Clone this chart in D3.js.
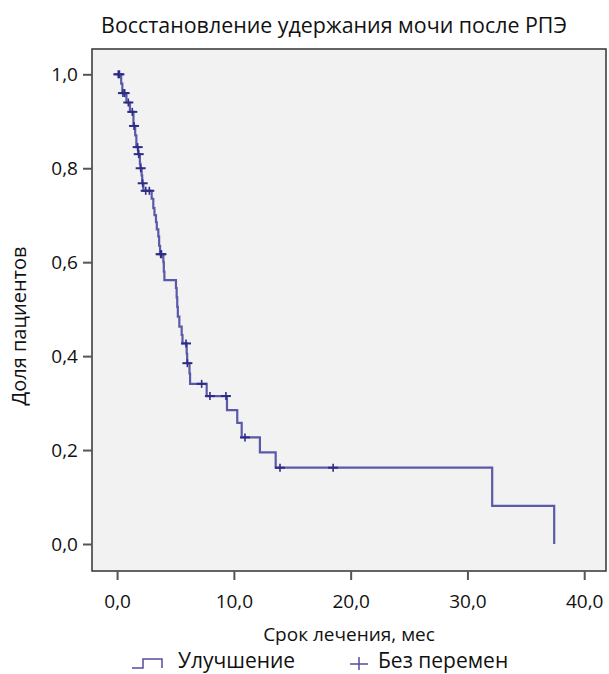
<!DOCTYPE html>
<html><head><meta charset="utf-8">
<script src="https://cdn.jsdelivr.net/npm/d3@7"></script>
<style>body{margin:0;background:#fff;}svg{display:block;}</style>
</head><body>
<svg id="c" width="609" height="674"></svg>
<script>
// Kaplan–Meier step events (time in months, survival after the step)
const stepTimes = [0, 0.35, 0.45, 0.8, 1.1, 1.4, 1.55, 1.65, 1.8, 1.95, 2.0, 2.1, 2.15, 2.25,
  2.96, 3.1, 3.2, 3.33, 3.4, 3.53, 3.6, 3.68, 3.96, 4.0, 4.05,
  5.04, 5.1, 5.15, 5.2, 5.33, 5.53, 5.6, 5.96, 6.0, 6.2, 6.25,
  7.67, 9.41, 10.29, 10.67, 12.23, 13.58, 32.12, 37.43];
const stepSurv = [1.0, 0.98, 0.96, 0.94, 0.92, 0.89, 0.87, 0.845, 0.83, 0.81, 0.80, 0.785, 0.768, 0.752,
  0.735, 0.715, 0.70, 0.685, 0.67, 0.655, 0.635, 0.617, 0.60, 0.58, 0.562,
  0.545, 0.525, 0.505, 0.484, 0.463, 0.445, 0.427, 0.405, 0.385, 0.363, 0.341,
  0.315, 0.285, 0.258, 0.227, 0.195, 0.1624, 0.0812, 0.0];
// censored observations
const censorTimes = [0.1, 0.2, 0.5, 0.65, 0.96, 1.3, 1.45, 1.76, 1.85, 2.02, 2.19, 2.45, 2.76,
  3.73, 3.8, 5.9, 6.02, 7.24, 7.95, 9.32, 10.95, 13.95, 18.5];
const censorSurv = [1.0, 1.0, 0.96, 0.96, 0.94, 0.92, 0.89, 0.845, 0.83, 0.80, 0.768, 0.752, 0.752,
  0.617, 0.617, 0.427, 0.385, 0.341, 0.315, 0.315, 0.227, 0.1624, 0.1624];
const xTicks = [0, 10, 20, 30, 40];
const xTickLabels = ["0,0", "10,0", "20,0", "30,0", "40,0"];
const yTicks = [0, 0.2, 0.4, 0.6, 0.8, 1.0];
const yTickLabels = ["0,0", "0,2", "0,4", "0,6", "0,8", "1,0"];
const legendLabels = ["Улучшение", "Без перемен"];
const titleText = "Восстановление удержания мочи после РПЭ";
const xLabel = "Срок лечения, мес";
const yLabel = "Доля пациентов";

const FONT = "'Open Sans', 'Noto Sans', sans-serif";
const svg = d3.select("#c");
const frame = {x0: 92, x1: 606, y0: 49, y1: 571};
const x = d3.scaleLinear().domain([0, 40]).range([117.1, 584.2]);
const y = d3.scaleLinear().domain([0, 1]).range([544, 74.3]);

svg.append("rect").attr("x", frame.x0).attr("y", frame.y0)
  .attr("width", frame.x1 - frame.x0).attr("height", frame.y1 - frame.y0)
  .attr("fill", "#f2f2f2").attr("stroke", "#333").attr("stroke-width", 1.5);

// axes
const yAxis = d3.axisLeft(y).tickValues(yTicks).tickSize(9).tickPadding(5)
  .tickFormat((d, i) => yTickLabels[i]);
const gy = svg.append("g").attr("transform", `translate(${frame.x0},0)`).call(yAxis);
gy.select(".domain").remove();
gy.selectAll(".tick line").attr("stroke", "#555").attr("stroke-width", 2);
gy.selectAll(".tick text").attr("font-family", FONT).attr("font-size", 19).attr("fill", "#111");

const xAxis = d3.axisBottom(x).tickValues(xTicks).tickSize(9).tickPadding(15)
  .tickFormat((d, i) => xTickLabels[i]);
const gx = svg.append("g").attr("transform", `translate(0,${frame.y1})`).call(xAxis);
gx.select(".domain").remove();
gx.selectAll(".tick line").attr("stroke", "#555").attr("stroke-width", 2);
gx.selectAll(".tick text").attr("font-family", FONT).attr("font-size", 19).attr("fill", "#111");

// KM curve
const pts = stepTimes.map((t, i) => [t, stepSurv[i]]);
const line = d3.line().x(d => x(d[0])).y(d => y(d[1])).curve(d3.curveStepAfter);
svg.append("path").attr("d", line(pts)).attr("fill", "none")
  .attr("stroke", "#5a5aa8").attr("stroke-width", 2.2);

// censor marks
const cg = svg.append("g");
censorTimes.forEach((t, i) => {
  const cx = x(t), cy = y(censorSurv[i]);
  cg.append("line").attr("x1", cx - 5).attr("x2", cx + 5).attr("y1", cy).attr("y2", cy)
    .attr("stroke", "#2d2d88").attr("stroke-width", 2);
  cg.append("line").attr("x1", cx).attr("x2", cx).attr("y1", cy - 4).attr("y2", cy + 4)
    .attr("stroke", "#2d2d88").attr("stroke-width", 1.6);
});

// title & labels
svg.append("text").attr("x", 334).attr("y", 33).attr("text-anchor", "middle")
  .attr("font-family", FONT).attr("font-size", 21.4).attr("fill", "#111").text(titleText);
svg.append("text").attr("x", 349).attr("y", 641).attr("text-anchor", "middle")
  .attr("font-family", FONT).attr("font-size", 19).attr("fill", "#111").text(xLabel);
svg.append("text").attr("transform", "translate(26,326) rotate(-90)").attr("text-anchor", "middle")
  .attr("font-family", FONT).attr("font-size", 20).attr("fill", "#111").text(yLabel);

// legend
svg.append("path").attr("d", "M132,668 H143 V659 H162 V668").attr("fill", "none")
  .attr("stroke", "#5a4aa0").attr("stroke-width", 1.5);
svg.append("text").attr("x", 178).attr("y", 668).attr("font-family", FONT).attr("font-size", 21)
  .attr("fill", "#111").text(legendLabels[0]);
svg.append("path").attr("d", "M350,664 H368 M359,657 V670").attr("fill", "none")
  .attr("stroke", "#5a4aa0").attr("stroke-width", 1.5);
svg.append("text").attr("x", 378).attr("y", 668).attr("font-family", FONT).attr("font-size", 21)
  .attr("fill", "#111").text(legendLabels[1]);
</script>
</body></html>
